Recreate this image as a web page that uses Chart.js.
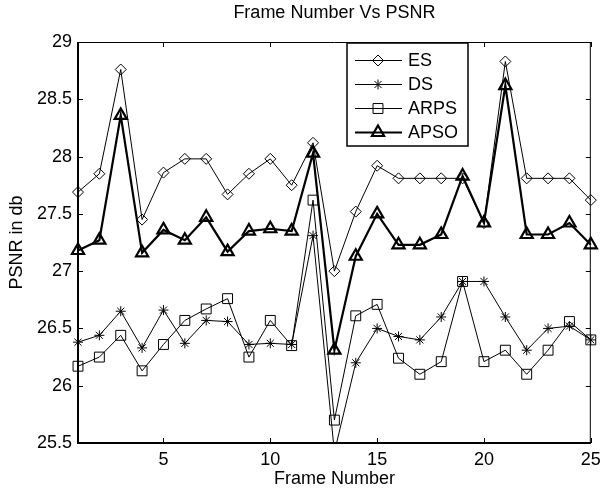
<!DOCTYPE html>
<html lang="en">

<head>
	<meta charset="UTF-8" />
	<title>Frame Number Vs PSNR</title>
	<script src="https://cdn.jsdelivr.net/npm/chart.js@4"></script>
	<style>
		html, body { margin: 0; padding: 0; background: #fff; }
	</style>
</head>

<body>
	<canvas id="chart" width="600" height="490"></canvas>
	<script>
		const frames = [1, 2, 3, 4, 5, 6, 7, 8, 9, 10, 11, 12, 13, 14, 15, 16, 17, 18, 19, 20, 21, 22, 23, 24, 25];

		const es = [27.69, 27.85, 28.76, 27.45, 27.86, 27.98, 27.98, 27.67, 27.85, 27.98, 27.75, 28.12, 27.0,
			27.52, 27.92, 27.81, 27.81, 27.81, 27.81, 27.42, 28.83, 27.81, 27.81, 27.81, 27.62];
		const ds = [26.38, 26.44, 26.65, 26.33, 26.66, 26.37, 26.57, 26.56, 26.36, 26.37, 26.36, 27.31, 25.42,
			26.2, 26.5, 26.43, 26.4, 26.6, 26.91, 26.91, 26.6, 26.31, 26.5, 26.52, 26.4];
		const arps = [26.17, 26.25, 26.44, 26.13, 26.36, 26.57, 26.67, 26.76, 26.25, 26.57, 26.35, 27.62, 25.7,
			26.61, 26.71, 26.24, 26.1, 26.21, 26.91, 26.21, 26.31, 26.1, 26.31, 26.56, 26.4];
		const apso = [27.18, 27.27, 28.36, 27.16, 27.36, 27.27, 27.47, 27.17, 27.35, 27.37, 27.35, 28.03, 26.31,
			27.13, 27.5, 27.23, 27.23, 27.32, 27.83, 27.42, 28.62, 27.32, 27.32, 27.42, 27.23];

		const xTicks = [5, 10, 15, 20, 25];
		const yTicks = [25.5, 26, 26.5, 27, 27.5, 28, 28.5, 29];

		const FONT = { family: '"Liberation Sans", Arial, sans-serif', size: 18, weight: 'normal' };

		function series(label, values, pointStyle, radius, width, order) {
			return {
				label,
				data: frames.map((f, i) => ({ x: f, y: values[i] })),
				borderColor: '#000',
				borderWidth: width,
				pointStyle,
				pointRadius: radius,
				pointBorderColor: '#000',
				pointBackgroundColor: 'rgba(0,0,0,0)',
				pointBorderWidth: width,
				tension: 0,
				order,
				// only cut off what falls below the bottom of the axes
				clip: { left: false, top: false, right: false, bottom: 0 },
			};
		}

		// matlab style box with inward ticks on all four sides
		const axesBox = {
			id: 'axesBox',
			beforeDatasetsDraw(chart) {
				const { ctx, chartArea: a, scales: { x, y } } = chart;
				ctx.save();
				ctx.strokeStyle = '#000';
				ctx.lineWidth = 1;
				ctx.beginPath();
				for (const v of xTicks) {
					const px = Math.round(x.getPixelForValue(v)) + 0.5;
					ctx.moveTo(px, a.bottom);
					ctx.lineTo(px, a.bottom - 5);
					ctx.moveTo(px, a.top);
					ctx.lineTo(px, a.top + 5);
				}
				for (const v of yTicks) {
					const py = Math.round(y.getPixelForValue(v)) + 0.5;
					ctx.moveTo(a.left, py);
					ctx.lineTo(a.left + 5, py);
					ctx.moveTo(a.right, py);
					ctx.lineTo(a.right - 5, py);
				}
				ctx.moveTo(a.left, a.top + 0.5);
				ctx.lineTo(a.right, a.top + 0.5);
				ctx.moveTo(a.right - 0.5, a.top);
				ctx.lineTo(a.right - 0.5, a.bottom);
				ctx.stroke();

				ctx.lineWidth = 2;
				ctx.beginPath();
				ctx.moveTo(a.left, a.top);
				ctx.lineTo(a.left, a.bottom);
				ctx.lineTo(a.right, a.bottom);
				ctx.stroke();
				ctx.restore();
			}
		};

		// boxed legend with line + marker samples
		const boxLegend = {
			id: 'boxLegend',
			afterDraw(chart) {
				const { ctx, chartArea: a } = chart;
				const left = a.left + 269;
				const top = a.top + 1;
				const w = 121;
				const h = 103;
				ctx.save();
				ctx.fillStyle = '#fff';
				ctx.fillRect(left, top, w, h);
				ctx.strokeStyle = '#000';
				ctx.lineWidth = 1.5;
				ctx.strokeRect(left, top, w, h);

				ctx.font = `${FONT.size}px ${FONT.family}`;
				ctx.textBaseline = 'middle';
				chart.data.datasets.forEach((ds, i) => {
					const cy = Math.round(top + 17 + i * 24) + 0.5;
					ctx.strokeStyle = '#000';
					ctx.lineWidth = ds.borderWidth;
					ctx.beginPath();
					ctx.moveTo(left + 8, cy);
					ctx.lineTo(left + 55, cy);
					ctx.stroke();

					ctx.fillStyle = 'rgba(0,0,0,0)';
					Chart.helpers.drawPoint(ctx, {
						pointStyle: ds.pointStyle,
						radius: ds.pointRadius,
						rotation: 0,
						borderWidth: ds.pointBorderWidth,
					}, left + 31, cy);

					ctx.fillStyle = '#000';
					ctx.fillText(ds.label, left + 61, cy + 1);
				});
				ctx.restore();
			}
		};

		new Chart(document.getElementById('chart'), {
			type: 'line',
			data: {
				datasets: [
					series('ES', es, 'rectRot', 5.5, 1, 4),
					series('DS', ds, 'star', 5, 1, 3),
					series('ARPS', arps, 'rect', 7, 1, 2),
					series('APSO', apso, 'triangle', 7, 2.2, 1),
				],
			},
			options: {
				responsive: false,
				animation: false,
				layout: { padding: { left: 0, right: 8, top: 0, bottom: 0 } },
				plugins: {
					legend: { display: false },
					tooltip: { enabled: false },
					title: {
						display: true,
						fullSize: false,
						text: 'Frame Number Vs PSNR',
						color: '#000',
						font: FONT,
						padding: { top: 2, bottom: 18.4 },
					},
				},
				scales: {
					x: {
						type: 'linear',
						min: 1,
						max: 25,
						grid: { display: false, drawTicks: false },
						border: { display: false },
						afterBuildTicks: s => { s.ticks = xTicks.map(v => ({ value: v })); },
						afterFit: s => { s.height = 47; s.paddingLeft = 0; s.paddingRight = 0; },
						ticks: {
							color: '#000',
							font: FONT,
							padding: 6,
							maxRotation: 0,
							autoSkip: false,
							callback: v => String(v),
						},
						title: {
							display: true,
							text: 'Frame Number',
							color: '#000',
							font: FONT,
							padding: { top: 0, bottom: 0 },
						},
					},
					y: {
						min: 25.5,
						max: 29,
						grid: { display: false, drawTicks: false },
						border: { display: false },
						afterBuildTicks: s => { s.ticks = yTicks.map(v => ({ value: v })); },
						afterFit: s => { s.width = 78; s.paddingTop = 0; s.paddingBottom = 0; },
						ticks: {
							color: '#000',
							font: FONT,
							padding: 6,
							autoSkip: false,
							callback: v => String(v),
						},
						title: {
							display: true,
							text: 'PSNR in db',
							color: '#000',
							font: FONT,
							padding: { top: 6, bottom: 0 },
						},
					},
				},
			},
			plugins: [axesBox, boxLegend],
		});
	</script>
</body>

</html>
